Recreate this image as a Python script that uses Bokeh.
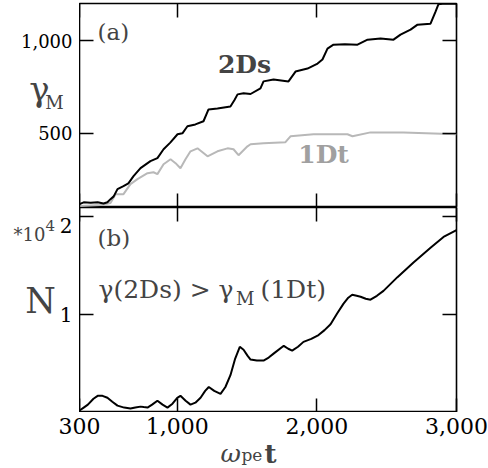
from bokeh.plotting import figure
from bokeh.models import Range1d, LinearAxis, FixedTicker, Label, CustomJSTickFormatter
from bokeh.layouts import column, row
from bokeh.core.properties import value
from bokeh.embed import file_html
from bokeh.resources import INLINE

# ---------------- data ----------------
t_2ds = [300, 330, 380, 430, 472, 500, 522, 545, 572, 615, 650, 687, 737, 808, 858, 902, 950,
         1002, 1037, 1073, 1130, 1188, 1224, 1288, 1381, 1410, 1432, 1475, 1525, 1596, 1618,
         1690, 1797, 1847, 1933, 2005, 2040, 2076, 2119, 2200, 2291, 2363, 2456, 2549, 2599,
         2671, 2721, 2814, 2850, 2871, 2900, 3000]
g_2ds = [118, 128, 125, 128, 122, 128, 145, 160, 199, 215, 230, 269, 312, 350, 366, 414, 450,
         495, 500, 538, 548, 565, 629, 634, 645, 680, 710, 716, 712, 742, 780,
         790, 780, 833, 849, 876, 898, 957, 978, 980, 978, 1005, 1011, 1005, 1032,
         1059, 1086, 1091, 1156, 1196, 1198, 1198]

t_1dt = [300, 450, 522, 558, 615, 665, 715, 787, 830, 858, 902, 952, 988, 1023, 1059, 1095,
         1145, 1217, 1288, 1360, 1403, 1439, 1503, 1525, 1618, 1775, 1811, 1976, 2219, 2255,
         2384, 2620, 3000]
g_1dt = [108, 113, 124, 172, 172, 226, 253, 285, 290, 280, 333, 360, 339, 312, 360, 403,
         419, 376, 403, 419, 414, 382, 430, 441, 446, 452, 484, 495, 495, 484,
         505, 505, 495]

t_n = [300, 330, 360, 400, 430, 465, 500, 535, 572, 620, 665, 700, 737, 760, 787, 820, 858,
       895, 930, 966, 1000, 1023, 1060, 1095, 1130, 1167, 1200, 1226, 1265, 1310, 1345, 1381,
       1415, 1448, 1475, 1503, 1525, 1570, 1618, 1655, 1690, 1763, 1795, 1823, 1865, 1904,
       1960, 2012, 2055, 2098, 2145, 2191, 2225, 2253, 2285, 2313, 2350, 2384, 2430, 2477,
       2577, 2692, 2814, 2907, 3000]
n_vals = [0.02, 0.05, 0.08, 0.14, 0.17, 0.17, 0.15, 0.11, 0.07, 0.05, 0.04, 0.05, 0.06, 0.055,
          0.05, 0.08, 0.12, 0.08, 0.05, 0.09, 0.15, 0.17, 0.12, 0.08, 0.10, 0.15, 0.22, 0.26,
          0.22, 0.19, 0.26, 0.38, 0.55, 0.67, 0.64, 0.58, 0.54, 0.53, 0.53, 0.56, 0.60, 0.68,
          0.65, 0.63, 0.67, 0.72, 0.75, 0.79, 0.84, 0.90, 1.01, 1.11, 1.17, 1.20, 1.19, 1.18,
          1.16, 1.15, 1.19, 1.24, 1.38, 1.53, 1.68, 1.79, 1.86]

x_ticks = [300, 1000, 2000, 3000]
x_labels = ["300", "1,000", "2,000", "3,000"]
ya_ticks = [500, 1000]
ya_labels = ["500", "1,000"]
yb_ticks = [1, 2]
yb_labels = ["1", "2"]

X_MIN, X_MAX = 300, 3000
YA_MIN, YA_MAX = 100, 1200
YB_MIN, YB_MAX = 0, 2.09

# ---------------- layout constants (pixels) ----------------
W = 488
LEFT = 79          # width of left label column
RIGHT = 32
TOP = 3
HA = 207           # height of row (a)
HB = 205           # height of row (b)
HC = 56            # bottom label strip
FRAME_W = W - LEFT - RIGHT

FONT = "DejaVu Serif"
TICK_IN = 14


def tick_axis(ticks):
    ax = LinearAxis(ticker=FixedTicker(ticks=ticks),
                    formatter=CustomJSTickFormatter(code="return ''"))
    ax.axis_line_color = None
    ax.major_tick_in = TICK_IN
    ax.major_tick_out = 0
    ax.major_tick_line_color = "black"
    ax.major_tick_line_width = 1.5
    ax.minor_tick_line_color = None
    ax.major_label_standoff = 0
    ax.major_label_text_font_size = "1px"
    ax.major_label_text_alpha = 0
    return ax


def bare(p):
    p.xgrid.visible = False
    p.ygrid.visible = False
    p.background_fill_color = "white"
    p.border_fill_color = "white"
    return p


def panel(height, y_range, top):
    p = figure(width=W - LEFT, height=height, output_backend="svg", toolbar_location=None,
               x_range=Range1d(X_MIN, X_MAX), y_range=y_range,
               min_border_left=0, min_border_right=RIGHT, min_border_top=top,
               min_border_bottom=0, x_axis_location=None, y_axis_location=None)
    bare(p)
    p.outline_line_color = "black"
    p.outline_line_width = 1.6
    return p


def side(height, y_range, top):
    p = figure(width=LEFT, height=height, output_backend="svg", toolbar_location=None,
               x_range=Range1d(0, LEFT), y_range=y_range,
               min_border_left=0, min_border_right=0, min_border_top=top,
               min_border_bottom=0, x_axis_location=None, y_axis_location=None)
    bare(p)
    p.outline_line_color = None
    return p


# ---------------- panel (a) ----------------
pa = panel(HA, Range1d(YA_MIN, YA_MAX), TOP)
for place, tk in (("left", ya_ticks), ("right", ya_ticks), ("below", x_ticks), ("above", x_ticks)):
    pa.add_layout(tick_axis(tk), place)

pa.line(t_1dt, g_1dt, line_color="#b8b8b8", line_width=2)
pa.line(t_2ds, g_2ds, line_color="black", line_width=2)

pa.add_layout(Label(x=429, y=1048, text="(a)", text_font=FONT, text_font_size="23px",
                    text_baseline="middle", text_align="left"))
pa.add_layout(Label(x=1482, y=871, text="2Ds", text_font=FONT, text_font_size="25px",
                    text_font_style="bold", text_baseline="middle", text_align="center"))
pa.add_layout(Label(x=2048, y=387, text="1Dt", text_font=FONT, text_font_size="25px",
                    text_font_style="bold", text_color="#a0a0a0",
                    text_baseline="middle", text_align="center"))

la = side(HA, pa.y_range, TOP)
la.text(x=[LEFT] * len(ya_ticks), y=ya_ticks, text=ya_labels, x_offset=-7,
        text_align="right", text_baseline="middle", text_font=value(FONT),
        text_font_size="18px", text_color="black")
la.add_layout(Label(x=39, y=737, text="γ", text_font=FONT, text_font_size="34px",
                    text_baseline="middle", text_align="center"))
la.add_layout(Label(x=54, y=667, text="M", text_font=FONT, text_font_size="18px",
                    text_baseline="middle", text_align="center"))

# ---------------- panel (b) ----------------
pb = panel(HB, Range1d(YB_MIN, YB_MAX), 0)
for place, tk in (("left", yb_ticks), ("right", yb_ticks), ("below", x_ticks), ("above", x_ticks)):
    pb.add_layout(tick_axis(tk), place)

pb.line(t_n, n_vals, line_color="black", line_width=2)

pb.add_layout(Label(x=429, y=1.776, text="(b)", text_font=FONT, text_font_size="23px",
                    text_baseline="middle", text_align="left"))
pb.add_layout(Label(x=436, y=1.255, text="γ(2Ds) > γ", text_font=FONT, text_font_size="25px",
                    text_baseline="alphabetic", text_align="left"))
pb.add_layout(Label(x=1420, y=1.16, text="M", text_font=FONT, text_font_size="18px",
                    text_baseline="alphabetic", text_align="left"))
pb.add_layout(Label(x=1596, y=1.255, text="(1Dt)", text_font=FONT, text_font_size="25px",
                    text_baseline="alphabetic", text_align="left"))

lb = side(HB, pb.y_range, 0)
lb.text(x=[LEFT] * len(yb_ticks), y=yb_ticks, text=yb_labels, x_offset=-7, y_offset=[0, 9],
        text_align="right", text_baseline="middle", text_font=value(FONT),
        text_font_size="20px", text_color="black")
lb.add_layout(Label(x=13, y=1.816, text="*10", text_font=FONT, text_font_size="18px",
                    text_baseline="middle", text_align="left"))
lb.add_layout(Label(x=45, y=1.908, text="4", text_font=FONT, text_font_size="15px",
                    text_baseline="middle", text_align="left"))
lb.add_layout(Label(x=40, y=1.133, text="N", text_font=FONT, text_font_size="35px",
                    text_baseline="middle", text_align="center"))

# ---------------- bottom strip: x tick labels and x label ----------------
ux = (X_MAX - X_MIN) / FRAME_W   # data units per pixel on the shared x scale
pc = figure(width=W, height=HC, output_backend="svg", toolbar_location=None,
            x_range=Range1d(X_MIN - LEFT * ux, X_MAX + RIGHT * ux), y_range=Range1d(HC, 0),
            min_border_left=0, min_border_right=0, min_border_top=0, min_border_bottom=0,
            x_axis_location=None, y_axis_location=None)
bare(pc)
pc.outline_line_color = None
pc.text(x=x_ticks, y=[5] * len(x_ticks), text=x_labels,
        text_align="center", text_baseline="top", text_font=value(FONT),
        text_font_size="22px", text_color="black")
pc.add_layout(Label(x=1310, y=41, text="ω", text_font=FONT, text_font_size="25px",
                    text_font_style="italic", text_baseline="alphabetic", text_align="left"))
pc.add_layout(Label(x=1460, y=42, text="pe", text_font=FONT, text_font_size="17px",
                    text_baseline="alphabetic", text_align="left"))
pc.add_layout(Label(x=1625, y=41, text="t", text_font=FONT, text_font_size="26px",
                    text_font_style="bold", text_baseline="alphabetic", text_align="left"))

layout = column(row(la, pa, spacing=0), row(lb, pb, spacing=0), pc, spacing=0)
open("out.html", "w").write(file_html(layout, INLINE))
